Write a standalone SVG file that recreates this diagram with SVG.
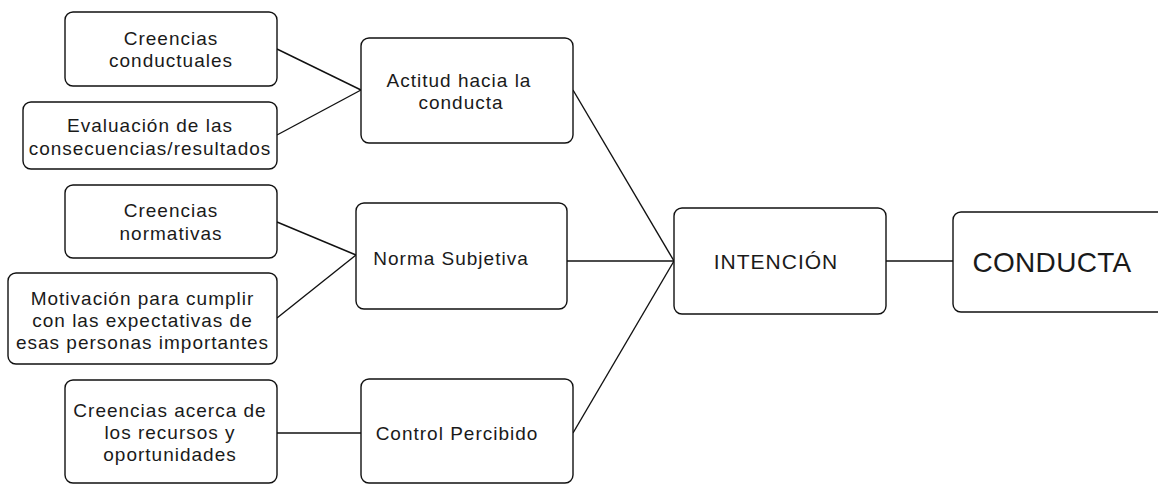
<svg xmlns="http://www.w3.org/2000/svg" width="1158" height="484" viewBox="0 0 1158 484">
<style>
.box{fill:#fff;stroke:#111;stroke-width:1.4}
.t{font-family:"Liberation Sans",Arial,sans-serif;font-size:19px;letter-spacing:1px;fill:#1a1a1a;text-anchor:middle}
.c{stroke:#111;stroke-width:1.4;fill:none}
</style>
<rect width="1158" height="484" fill="#fff"/>
<g id="connectors">
<line class="c" x1="277" y1="49" x2="361" y2="90"/>
<line class="c" x1="277" y1="135" x2="361" y2="90"/>
<line class="c" x1="277" y1="222" x2="356" y2="255"/>
<line class="c" x1="277" y1="318" x2="356" y2="255"/>
<line class="c" x1="277" y1="433" x2="361" y2="433"/>
<line class="c" x1="573" y1="90" x2="674" y2="261"/>
<line class="c" x1="567" y1="261" x2="674" y2="261"/>
<line class="c" x1="573" y1="433" x2="674" y2="261"/>
<line class="c" x1="886" y1="261" x2="953" y2="261"/>
</g>
<g id="creencias-conductuales">
<rect class="box" x="65" y="12" width="212" height="74" rx="8"/>
<text class="t" x="171" y="44.5">Creencias</text>
<text class="t" x="171" y="67">conductuales</text>
</g>
<g id="evaluacion">
<rect class="box" x="23" y="102" width="254" height="67" rx="8"/>
<text class="t" x="150" y="131.5">Evaluación de las</text>
<text class="t" x="150" y="155">consecuencias/resultados</text>
</g>
<g id="creencias-normativas">
<rect class="box" x="65" y="185" width="212" height="73" rx="8"/>
<text class="t" x="171" y="217">Creencias</text>
<text class="t" x="171" y="239.5">normativas</text>
</g>
<g id="motivacion">
<rect class="box" x="8" y="273" width="269" height="91" rx="8"/>
<text class="t" x="142.5" y="305">Motivación para cumplir</text>
<text class="t" x="142.5" y="327">con las expectativas de</text>
<text class="t" x="142.5" y="348.5">esas personas importantes</text>
</g>
<g id="creencias-recursos">
<rect class="box" x="65" y="380" width="212" height="103" rx="8"/>
<text class="t" x="170" y="417">Creencias acerca de</text>
<text class="t" x="170" y="438.5">los recursos y</text>
<text class="t" x="170" y="461">oportunidades</text>
</g>
<g id="actitud">
<rect class="box" x="361" y="38" width="212" height="105" rx="8"/>
<text class="t" x="459" y="86.7">Actitud hacia la</text>
<text class="t" x="461" y="109">conducta</text>
</g>
<g id="norma">
<rect class="box" x="356" y="203" width="211" height="106" rx="8"/>
<text class="t" x="451" y="265">Norma Subjetiva</text>
</g>
<g id="control">
<rect class="box" x="361" y="379" width="212" height="104" rx="8"/>
<text class="t" x="457" y="440">Control Percibido</text>
</g>
<g id="intencion">
<rect class="box" x="674" y="208" width="212" height="106" rx="8"/>
<text class="t" x="776" y="269" style="font-size:21px">INTENCIÓN</text>
</g>
<g id="conducta">
<rect class="box" x="953" y="212" width="215" height="100" rx="8"/>
<text class="t" x="1052" y="271.5" style="font-size:28px;letter-spacing:0.3px">CONDUCTA</text>
</g>
</svg>
